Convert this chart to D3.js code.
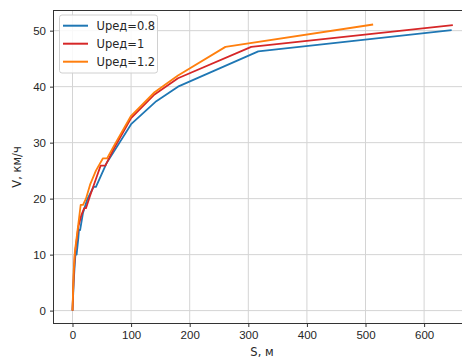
<!DOCTYPE html>
<html>
<head>
<meta charset="utf-8">
<script src="https://cdn.jsdelivr.net/npm/d3@7"></script>
<style>
  body { margin: 0; background: #fff; }
  svg { display: block; font-family: 'DejaVu Sans', sans-serif; }
  .chartAxis text { font-size: 11.5px; fill: #262626; }
  .grid line { stroke: #d4d4d4; stroke-width: 1; }
</style>
</head>
<body>
<div id="chart"></div>
<script>
// S, m and V, km/h
const seriesNames = ['Uред=0.8', 'Uред=1', 'Uред=1.2'];
const sBlue = [0, 2, 4, 5, 7, 10, 11, 13, 18, 25, 36, 40, 58, 100, 143, 180, 317, 647];
const vBlue = [0, 5, 8.5, 10, 10, 13, 14.4, 14.4, 17.5, 19.8, 22.1, 22.1, 26.3, 33.3, 37.4, 40, 46.3, 50.1];
const sRed = [0, 2, 4, 7, 10, 15, 20, 23, 30, 40, 48, 56, 70, 100, 140, 180, 305, 649];
const vRed = [0, 6, 10, 12.5, 15, 17, 18.3, 18.3, 20.5, 23.5, 25.9, 25.9, 28.8, 34.4, 38.6, 41.5, 47.1, 51];
const sOrange = [0, 2, 4, 7, 10, 14, 18, 23, 30, 40, 52, 59, 70, 100, 140, 180, 261, 513];
const vOrange = [0, 7, 10.5, 13, 15.5, 18.9, 18.9, 20, 22.5, 25, 27.2, 27.2, 29.3, 34.8, 39, 42, 47.1, 51.1];
const xTicks = [0, 100, 200, 300, 400, 500, 600];
const yTicks = [0, 10, 20, 30, 40, 50];

const colors = ['#1f77b4', '#d62728', '#ff7f0e'];
const series = [
  sBlue.map((s, i) => ({ s: s, v: vBlue[i] })),
  sRed.map((s, i) => ({ s: s, v: vRed[i] })),
  sOrange.map((s, i) => ({ s: s, v: vOrange[i] }))
];

let width = 462, height = 358;
let plot = { left: 53.5, right: 471, top: 10.5, bottom: 323.5 };

let x = d3.scaleLinear().domain([-32.4, 680]).range([plot.left, plot.right]);
let y = d3.scaleLinear().domain([-2.3, 53.6]).range([plot.bottom, plot.top]);

let svg = d3.select('#chart').append('svg')
  .attr('width', width)
  .attr('height', height);

svg.append('defs').append('clipPath').attr('id', 'clip')
  .append('rect')
  .attr('x', plot.left).attr('y', plot.top)
  .attr('width', plot.right - plot.left).attr('height', plot.bottom - plot.top);

// grid
let grid = svg.append('g').attr('class', 'grid');
grid.selectAll('.gx').data(xTicks).enter().append('line')
  .attr('x1', d => x(d)).attr('x2', d => x(d))
  .attr('y1', plot.top).attr('y2', plot.bottom);
grid.selectAll('.gy').data(yTicks).enter().append('line')
  .attr('x1', plot.left).attr('x2', plot.right)
  .attr('y1', d => y(d)).attr('y2', d => y(d));

// lines
let line = d3.line().x(d => x(d.s)).y(d => y(d.v));
svg.append('g').attr('clip-path', 'url(#clip)')
  .selectAll('path').data(series).enter().append('path')
  .attr('d', line)
  .attr('fill', 'none')
  .attr('stroke', (d, i) => colors[i])
  .attr('stroke-width', 1.8)
  .attr('stroke-linejoin', 'round');

// frame
svg.append('rect')
  .attr('x', plot.left).attr('y', plot.top)
  .attr('width', plot.right - plot.left).attr('height', plot.bottom - plot.top)
  .attr('fill', 'none').attr('stroke', '#333').attr('stroke-width', 1);

// axes
let xAxis = svg.append('g')
  .attr('class', 'chartAxis')
  .attr('transform', `translate(0,${plot.bottom})`)
  .call(d3.axisBottom(x).tickValues(xTicks).tickSize(3.5).tickPadding(4));
xAxis.select('.domain').remove();
xAxis.selectAll('line').attr('stroke', '#333');

let yAxis = svg.append('g')
  .attr('class', 'chartAxis')
  .attr('transform', `translate(${plot.left},0)`)
  .call(d3.axisLeft(y).tickValues(yTicks).tickSize(3.5).tickPadding(4));
yAxis.select('.domain').remove();
yAxis.selectAll('line').attr('stroke', '#333');

// axis titles
svg.append('text')
  .attr('x', 262).attr('y', 356)
  .attr('text-anchor', 'middle')
  .attr('font-size', 11.5).attr('fill', '#262626')
  .text('S, м');
svg.append('text')
  .attr('transform', `translate(21,${(plot.top + plot.bottom) / 2}) rotate(-90)`)
  .attr('text-anchor', 'middle')
  .attr('font-size', 11.5).attr('fill', '#262626')
  .text('V, км/ч');

// legend
let legend = svg.append('g').attr('transform', 'translate(59.5,15)');
legend.append('rect')
  .attr('width', 98).attr('height', 58).attr('rx', 2.5)
  .attr('fill', '#fff').attr('fill-opacity', 0.85)
  .attr('stroke', '#d0d0d0').attr('stroke-width', 1);
let items = legend.selectAll('.item').data(seriesNames).enter().append('g')
  .attr('transform', (d, i) => `translate(0,${10.7 + i * 18})`);
items.append('line')
  .attr('x1', 3.5).attr('x2', 28.5)
  .attr('stroke', (d, i) => colors[i]).attr('stroke-width', 2);
items.append('text')
  .attr('x', 37).attr('dy', '0.35em')
  .attr('font-size', 11.5).attr('fill', '#262626')
  .text(d => d);
</script>
</body>
</html>
